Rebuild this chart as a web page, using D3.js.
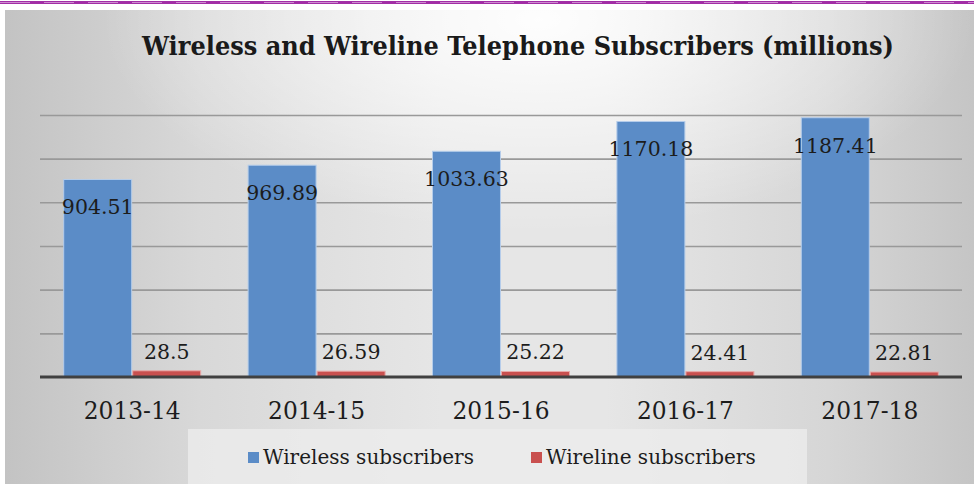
<!DOCTYPE html>
<html>
<head>
<meta charset="utf-8">
<script src="https://cdn.jsdelivr.net/npm/d3@7"></script>
<style>
html,body{margin:0;padding:0;background:#fff;}
svg{display:block;}
</style>
</head>
<body>
<svg id="chart" width="974" height="484"></svg>
<script>
const categories = ["2013-14", "2014-15", "2015-16", "2016-17", "2017-18"];
const seriesNames = ["Wireless subscribers", "Wireline subscribers"];
const wireless = [904.51, 969.89, 1033.63, 1170.18, 1187.41];
const wireline = [28.5, 26.59, 25.22, 24.41, 22.81];
const gridTicks = [200, 400, 600, 800, 1000, 1200];
const titleText = "Wireless and Wireline Telephone Subscribers (millions)";
const colors = ["#5b8cc7", "#c9504f"];

const svg = d3.select("#chart");
const W = 974, H = 484;
const serif = "'DejaVu Serif', 'Liberation Serif', serif";

// background
const defs = svg.append("defs");
const lg = defs.append("linearGradient").attr("id", "bgl")
  .attr("x1", "0%").attr("x2", "100%").attr("y1", "0%").attr("y2", "0%");
[[0, "#c3c3c3"], [0.2, "#d8d8d8"], [0.45, "#e6e6e6"], [0.62, "#e6e6e6"], [0.85, "#d6d6d6"], [1, "#c5c5c5"]]
  .forEach(([o, c]) => lg.append("stop").attr("offset", o).attr("stop-color", c));
const rg = defs.append("radialGradient").attr("id", "bgr")
  .attr("cx", "55%").attr("cy", "2%").attr("r", "45%");
rg.append("stop").attr("offset", "0%").attr("stop-color", "#ffffff").attr("stop-opacity", 0.95);
rg.append("stop").attr("offset", "100%").attr("stop-color", "#ffffff").attr("stop-opacity", 0);

svg.append("rect").attr("x", 5).attr("y", 10).attr("width", W - 5).attr("height", H - 10)
  .attr("fill", "url(#bgl)");
svg.append("rect").attr("x", 5).attr("y", 10).attr("width", W - 5).attr("height", H - 10)
  .attr("fill", "url(#bgr)");

// top purple line
svg.append("line").attr("x1", 0).attr("x2", W).attr("y1", 2.5).attr("y2", 2.5)
  .attr("stroke", "#a22ea6").attr("stroke-width", 3);
svg.append("line").attr("x1", 0).attr("x2", W).attr("y1", 2.5).attr("y2", 2.5)
  .attr("stroke", "#d9a6da").attr("stroke-width", 0.8).attr("stroke-dasharray", "30,14");

// scales
const x0 = d3.scaleBand().domain(categories).range([40, 962])
  .paddingInner(0.257).paddingOuter(0.1285);
const x1 = d3.scaleBand().domain(seriesNames).range([0, x0.bandwidth()]).paddingInner(0.015);
const y = d3.scaleLinear().domain([0, 1400]).range([377, 71.3]);

// gridlines
const grid = svg.append("g").call(
  d3.axisLeft(y).tickValues(gridTicks).tickSize(-(962 - 40)).tickFormat("")
).attr("transform", "translate(40,0)");
grid.select(".domain").remove();
grid.selectAll(".tick line").attr("stroke", "#999999").attr("stroke-width", 1.6);

// bars
const data = categories.map((c, i) => ({cat: c, vals: [wireless[i], wireline[i]]}));
const groups = svg.append("g").selectAll("g").data(data).join("g")
  .attr("transform", d => `translate(${x0(d.cat)},0)`);

groups.selectAll("rect").data(d => d.vals.map((v, j) => ({name: seriesNames[j], v, j})))
  .join("rect")
  .attr("x", d => x1(d.name))
  .attr("y", d => y(d.v))
  .attr("width", x1.bandwidth())
  .attr("height", d => y(0) - y(d.v))
  .attr("fill", d => colors[d.j])
  .attr("stroke", d => d.j === 0 ? "#b5cdea" : "#e8a9a8")
  .attr("stroke-width", 1);

// labels
groups.selectAll("text.val").data(d => d.vals.map((v, j) => ({name: seriesNames[j], v, j})))
  .join("text").attr("class", "val")
  .attr("x", d => x1(d.name) + x1.bandwidth() / 2)
  .attr("y", d => d.j === 0 ? y(d.v) + 35 : y(d.v) - 12)
  .attr("text-anchor", "middle")
  .attr("font-family", serif)
  .attr("font-size", 20.5)
  .attr("fill", "#1c1c1c")
  .text(d => d.v);

// baseline axis
const xAxis = svg.append("g").attr("transform", `translate(0,${y(0)})`)
  .call(d3.axisBottom(x0).tickSize(0).tickPadding(0));
xAxis.select(".domain").attr("stroke", "#404040").attr("stroke-width", 3)
  .attr("d", "M40,0H962");
xAxis.selectAll(".tick text")
  .attr("dy", 0).attr("y", 419 - 377)
  .attr("font-family", serif).attr("font-size", 25).attr("fill", "#1c1c1c")
  .attr("textLength", 97).attr("lengthAdjust", "spacingAndGlyphs");

// title
svg.append("text").attr("x", 142).attr("y", 55)
  .attr("font-family", serif).attr("font-weight", "bold").attr("font-size", 26)
  .attr("textLength", 752).attr("lengthAdjust", "spacingAndGlyphs")
  .attr("fill", "#1a1a1a").text(titleText);

// legend
svg.append("rect").attr("x", 188).attr("y", 429).attr("width", 619).attr("height", 60)
  .attr("fill", "#ececec").attr("opacity", 0.8);
const legX = [248, 531];
const leg = svg.append("g").selectAll("g").data(seriesNames).join("g")
  .attr("transform", (d, i) => `translate(${legX[i]},0)`);
leg.append("rect").attr("x", 0).attr("y", 452).attr("width", 11).attr("height", 11)
  .attr("fill", (d, i) => colors[i]);
leg.append("text").attr("x", 15).attr("y", 464)
  .attr("font-family", serif).attr("font-size", 20).attr("fill", "#1c1c1c")
  .text(d => d);
</script>
</body>
</html>
